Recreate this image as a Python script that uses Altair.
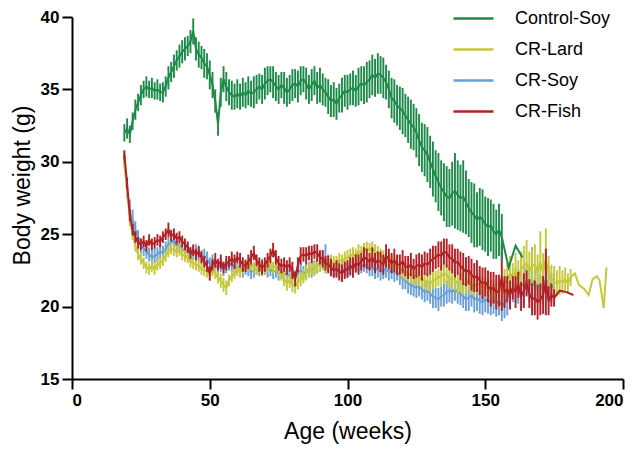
import altair as alt
import pandas as pd

series_order = ["Control-Soy", "CR-Lard", "CR-Soy", "CR-Fish"]
series_colors = ["#1e8a49", "#c4c83a", "#6a9fdb", "#b31f24"]

# ---------------- Control-Soy ----------------
cs_start = 19
cs_mean = [
    32.0, 32.3, 31.9, 32.8, 33.6, 34.1, 34.6, 35.0, 35.2, 35.0, 35.1, 34.9,
    35.0, 34.8, 34.8, 35.2, 35.8, 36.2, 36.6, 37.0, 37.3, 37.6,
    37.8, 38.0, 38.3, 39.0, 37.8, 37.4, 37.2, 36.8, 36.6, 36.0,
    35.3, 34.2, 32.6, 34.8, 35.7, 35.2, 34.8, 34.6, 34.5, 34.7,
    34.5, 34.8, 34.6, 34.9, 34.7, 34.8, 35.0, 35.2, 35.0, 35.4,
    35.6, 35.7, 35.5, 35.2, 35.0, 35.3, 35.1, 34.8, 35.0, 35.3,
    35.4, 35.2, 35.6, 35.7, 35.4, 35.0, 35.3, 35.6, 35.1, 35.3,
    35.0, 34.8, 34.5, 34.2, 34.3, 34.0, 34.4, 34.6, 34.9, 34.8,
    35.0, 35.1, 34.9, 35.2, 35.4, 35.3, 35.5, 35.7, 36.0, 35.8,
    36.1, 36.0, 35.8, 35.5, 35.0, 34.4, 34.2, 33.9, 33.7, 33.5,
    33.2, 32.9, 32.6, 32.4, 32.0, 31.5, 31.0, 30.8, 30.5, 30.0,
    29.5, 29.0, 28.6, 28.2, 27.9, 27.6, 27.5, 27.8, 28.0, 27.7,
    27.5, 27.6, 27.2, 26.8, 26.5, 26.3, 26.0, 26.2, 26.0, 25.7,
    25.5, 25.6, 25.2, 25.0, 25.3, 24.8,
]
cs_err = [
    0.6, 0.7, 0.6, 0.6, 0.7, 0.6, 0.7, 0.6, 0.7, 0.6, 0.7, 0.6,
    0.7, 0.6, 0.7, 0.7, 0.8, 0.7, 0.8, 0.7, 0.8, 0.8,
    0.8, 0.7, 0.8, 0.9, 0.8, 0.9, 0.8, 1.0, 0.9, 1.0,
    0.9, 0.8, 0.8, 1.0, 0.9, 1.0, 0.9, 1.0, 0.9, 1.0,
    0.9, 1.0, 0.9, 1.0, 0.9, 1.1, 1.0, 0.9, 1.0, 1.1,
    1.0, 0.9, 1.1, 1.0, 1.0, 0.9, 1.1, 1.0, 1.0, 1.1,
    1.0, 1.1, 1.0, 0.9, 1.1, 1.0, 1.1, 1.0, 1.1, 1.2,
    1.1, 1.0, 1.2, 1.1, 1.2, 1.1, 1.0, 1.2, 1.1, 1.2,
    1.1, 1.2, 1.1, 1.3, 1.2, 1.3, 1.4, 1.3, 1.4, 1.3,
    1.4, 1.3, 1.4, 1.2, 1.3, 1.4, 1.5, 1.4, 1.5, 1.6,
    1.5, 1.6, 1.7, 1.6, 1.7, 1.8, 1.7, 1.8, 1.9, 1.8,
    1.9, 1.8, 2.0, 1.9, 2.0, 2.1, 2.0, 2.2, 2.6, 2.4,
    2.3, 2.5, 2.2, 2.0, 2.1, 2.2, 1.9, 2.0, 2.1, 1.9,
    2.0, 1.8, 1.9, 1.7, 1.8, 1.6,
]
cs_tail_week = [158.5, 161.0, 163.5]
cs_tail_mean = [22.7, 24.2, 23.4]

# ---------------- CR-Fish ----------------
fi_start = 19
fi_mean = [
    30.5, 28.5, 26.3, 25.3, 24.8, 24.4, 24.3, 24.5, 24.2, 24.6,
    24.3, 24.4, 24.6, 24.5, 24.8, 25.0, 25.3, 24.9, 25.0, 24.7,
    24.8, 24.5, 24.3, 24.1, 23.7, 23.9, 23.6, 23.8, 23.4, 23.1,
    22.8, 22.3, 22.9, 23.2, 22.9, 23.1, 22.7, 23.0, 23.1, 23.3,
    23.1, 23.4, 23.2, 22.9, 22.8, 23.1, 23.4, 23.7, 23.2, 22.9,
    22.7, 22.9, 23.2, 23.5, 23.9, 23.4, 23.0, 22.8, 22.9, 22.7,
    22.9, 22.5, 21.9, 22.9, 23.5, 23.6, 23.5, 23.7, 23.6, 23.8,
    23.7, 23.4, 23.3, 23.0, 22.9, 22.7, 22.5, 22.6, 22.4, 22.3,
    22.5, 22.6, 22.8, 22.7, 23.0, 22.9, 23.1, 23.4, 23.3, 23.1,
    23.4, 23.0, 23.2, 23.1, 22.9, 23.5, 23.3, 23.0, 23.2, 22.9,
    22.9, 23.1, 22.8, 22.7, 22.9, 22.6, 22.8, 22.9, 22.7, 23.0,
    22.9, 23.1, 23.3, 23.4, 23.6, 23.5, 23.8, 23.7, 23.4, 23.3,
    23.0, 23.1, 22.8, 22.6, 22.4, 22.5, 22.2, 22.0, 22.1, 21.8,
    21.6, 21.7, 21.4, 21.2, 21.3, 21.0, 21.1, 22.0, 21.0, 21.2,
    20.8, 21.3, 21.0, 21.5, 20.7, 21.1, 21.6, 20.9, 20.5, 20.6,
    20.3, 20.5, 20.8, 21.7, 20.4, 20.8, 20.6,
]
fi_err = [
    0.3, 0.4, 0.4, 0.4, 0.4, 0.4, 0.4, 0.4, 0.4, 0.4,
    0.4, 0.4, 0.4, 0.4, 0.4, 0.4, 0.5, 0.4, 0.4, 0.4,
    0.4, 0.4, 0.4, 0.4, 0.4, 0.4, 0.4, 0.4, 0.4, 0.4,
    0.4, 0.5, 0.4, 0.5, 0.4, 0.5, 0.4, 0.5, 0.4, 0.5,
    0.5, 0.4, 0.5, 0.5, 0.4, 0.5, 0.5, 0.5, 0.4, 0.5,
    0.5, 0.5, 0.5, 0.5, 0.5, 0.5, 0.5, 0.5, 0.5, 0.5,
    0.5, 0.6, 0.5, 0.5, 0.6, 0.5, 0.6, 0.5, 0.6, 0.5,
    0.6, 0.5, 0.6, 0.5, 0.6, 0.6, 0.5, 0.6, 0.6, 0.6,
    0.6, 0.6, 0.6, 0.7, 0.6, 0.7, 0.6, 0.7, 0.7, 0.6,
    0.7, 0.7, 0.6, 0.7, 0.7, 0.8, 0.7, 0.7, 0.8, 0.7,
    0.7, 0.8, 0.7, 0.8, 0.8, 0.7, 0.8, 0.8, 0.9, 0.8,
    0.8, 0.9, 0.9, 0.8, 0.9, 1.0, 0.9, 1.0, 0.9, 1.0,
    1.0, 0.9, 1.0, 1.1, 1.0, 1.0, 1.1, 1.0, 1.1, 1.0,
    1.1, 1.0, 1.1, 1.2, 1.1, 1.2, 1.1, 2.3, 1.1, 0.9,
    1.0, 0.8, 1.1, 0.9, 1.0, 1.2, 0.9, 1.0, 1.1, 1.2,
    1.2, 1.1, 1.3, 2.3, 1.0, 0.8, 0.6,
]
fi_tail_week = [177.0, 179.5, 182.0]
fi_tail_mean = [21.1, 21.0, 20.8]

# ---------------- CR-Soy ----------------
so_start = 19
so_mean = [
    30.3, 28.0, 26.5, 26.0, 25.3, 24.8, 24.2, 24.0, 23.8, 23.6,
    23.4, 23.5, 23.6, 23.8, 23.7, 24.0, 24.3, 24.4, 24.6, 24.2,
    24.3, 24.0, 23.8, 23.9, 23.6, 23.7, 23.8, 23.6, 23.4, 23.5,
    23.3, 22.9, 23.1, 22.8, 22.7, 22.9, 22.6, 22.8, 23.0, 22.9,
    22.7, 22.8, 22.6, 22.5, 22.7, 22.6, 22.4, 22.5, 22.7, 22.6,
    22.8, 22.7, 22.5, 22.6, 22.4, 22.5, 22.3, 22.4, 22.2, 22.3,
    22.1, 22.2, 22.0, 22.3, 22.5, 22.3, 22.4, 22.6, 22.5, 22.7,
    22.8, 23.0, 23.2, 23.3, 23.0, 22.7, 22.5, 22.6, 22.4, 22.5,
    22.6, 22.5, 22.6, 22.7, 22.8, 22.9, 22.8, 22.9, 22.8, 22.6,
    22.7, 22.5, 22.6, 22.4, 22.5, 22.6, 22.4, 22.5, 22.3, 22.4,
    22.1, 21.9, 21.8, 21.6, 21.5, 21.4, 21.3, 21.4, 21.2, 21.0,
    21.1, 20.9, 20.7, 20.6, 20.5, 20.7, 20.8, 21.0, 21.1, 21.0,
    21.2, 21.0, 20.9, 20.7, 20.5, 20.6, 20.8, 20.5, 20.6, 20.4,
    20.3, 20.5, 20.4, 20.3, 20.5, 20.2, 20.4, 20.1, 20.2, 20.6,
    21.0, 21.3, 21.5, 21.2, 21.6, 21.4, 21.8, 21.5, 21.9, 21.4,
    21.6, 21.2, 21.5, 21.9, 21.6, 21.3, 21.5,
]
so_err = [
    0.4, 0.5, 0.9, 0.7, 0.6, 0.5, 0.5, 0.5, 0.5, 0.5,
    0.5, 0.5, 0.5, 0.5, 0.5, 0.5, 0.5, 0.5, 0.5, 0.5,
    0.5, 0.5, 0.5, 0.5, 0.5, 0.5, 0.5, 0.5, 0.5, 0.5,
    0.5, 0.5, 0.5, 0.5, 0.5, 0.5, 0.5, 0.5, 0.5, 0.5,
    0.5, 0.5, 0.5, 0.5, 0.5, 0.5, 0.5, 0.5, 0.5, 0.5,
    0.5, 0.5, 0.5, 0.5, 0.5, 0.5, 0.5, 0.5, 0.5, 0.5,
    0.5, 0.5, 0.5, 0.5, 0.5, 0.5, 0.5, 0.5, 0.5, 0.5,
    0.5, 0.6, 0.7, 1.0, 0.6, 0.5, 0.5, 0.5, 0.5, 0.5,
    0.5, 0.5, 0.5, 0.5, 0.5, 0.5, 0.5, 0.5, 0.5, 0.5,
    0.6, 0.6, 0.6, 0.6, 0.6, 0.6, 0.6, 0.6, 0.6, 0.6,
    0.6, 0.7, 0.6, 0.7, 0.7, 0.7, 0.7, 0.7, 0.7, 0.7,
    0.7, 0.7, 0.8, 0.7, 0.8, 0.7, 0.8, 0.8, 0.8, 0.8,
    0.8, 0.8, 0.8, 0.8, 0.8, 0.9, 0.8, 0.9, 0.9, 0.9,
    0.9, 0.9, 0.9, 0.9, 1.0, 0.9, 1.0, 1.1, 1.0, 1.2,
    1.1, 1.0, 1.2, 1.0, 1.1, 1.3, 1.0, 1.2, 2.2, 1.1,
    1.2, 1.0, 1.3, 1.1, 1.2, 1.0, 0.8,
]

# ---------------- CR-Lard ----------------
la_start = 19
la_mean = [
    30.0, 28.0, 26.0, 25.0, 24.2, 23.6, 23.3, 23.0, 22.7, 22.6,
    22.8, 22.6, 22.9, 23.0, 23.2, 23.5, 23.8, 24.0, 23.9, 23.8,
    23.9, 23.6, 23.5, 23.4, 23.1, 23.0, 22.9, 22.8, 22.6, 22.5,
    22.4, 22.2, 22.5, 22.3, 22.0, 21.8, 21.5, 21.3, 21.8, 22.1,
    22.3, 22.5, 22.4, 22.7, 22.9, 22.8, 22.9, 22.7, 22.6, 22.7,
    22.5, 22.6, 22.8, 22.9, 22.7, 22.8, 22.5, 22.2, 21.9, 21.6,
    21.8, 21.5, 21.4, 21.7, 21.9, 22.1, 22.3, 22.5, 22.7, 22.6,
    22.8, 22.9, 23.0, 22.8, 22.9, 23.1, 23.0, 23.0, 23.2, 23.1,
    23.3, 23.4, 23.5, 23.6, 23.5, 23.8, 23.7, 23.9, 24.0, 23.9,
    24.0, 23.8, 23.7, 23.5, 23.4, 23.3, 23.1, 23.0, 22.9, 22.7,
    22.6, 22.5, 22.4, 22.3, 22.2, 22.1, 22.1, 22.0, 21.9, 21.8,
    21.7, 21.6, 21.8, 21.9, 22.0, 22.1, 22.3, 22.2, 22.0, 21.9,
    21.8, 21.6, 21.7, 21.5, 21.6, 21.8, 21.5, 21.4, 21.6, 21.5,
    21.3, 21.4, 21.2, 21.0, 21.1, 20.9, 21.0, 21.2, 21.6, 21.9,
    22.3, 22.0, 22.4, 22.1, 22.6, 22.8, 23.0, 22.5, 22.8, 22.9,
    22.4, 23.0, 22.4, 23.3, 22.3, 21.9, 21.7, 21.6, 21.8, 21.7,
    21.9, 21.6, 22.0,
]
la_err = [
    0.4, 0.4, 0.4, 0.4, 0.4, 0.4, 0.4, 0.4, 0.4, 0.4,
    0.4, 0.4, 0.4, 0.4, 0.4, 0.4, 0.4, 0.4, 0.4, 0.4,
    0.4, 0.4, 0.4, 0.4, 0.4, 0.4, 0.4, 0.4, 0.4, 0.4,
    0.4, 0.4, 0.4, 0.4, 0.4, 0.5, 0.5, 0.5, 0.4, 0.4,
    0.4, 0.4, 0.4, 0.4, 0.4, 0.4, 0.4, 0.4, 0.4, 0.4,
    0.4, 0.4, 0.4, 0.4, 0.4, 0.4, 0.4, 0.4, 0.5, 0.5,
    0.5, 0.5, 0.5, 0.5, 0.5, 0.5, 0.5, 0.5, 0.5, 0.5,
    0.5, 0.5, 0.5, 0.5, 0.5, 0.5, 0.5, 0.5, 0.5, 0.5,
    0.5, 0.5, 0.5, 0.5, 0.5, 0.5, 0.5, 0.5, 0.5, 0.5,
    0.5, 0.5, 0.5, 0.5, 0.5, 0.5, 0.5, 0.5, 0.5, 0.5,
    0.5, 0.6, 0.6, 0.6, 0.6, 0.6, 0.6, 0.6, 0.6, 0.6,
    0.6, 0.6, 0.6, 0.6, 0.6, 0.7, 0.7, 0.7, 0.7, 0.7,
    0.7, 0.7, 0.7, 0.7, 0.7, 0.7, 0.7, 0.7, 0.7, 0.7,
    0.7, 0.7, 0.7, 0.8, 0.7, 0.8, 0.8, 0.9, 1.0, 1.1,
    1.2, 1.0, 1.3, 1.1, 1.2, 1.4, 1.6, 1.3, 1.2, 1.4,
    1.2, 2.2, 1.3, 2.1, 1.2, 1.0, 1.1, 0.9, 1.0, 0.8,
    0.8, 0.7, 0.6,
]
la_tail_week = [182.5, 184.0, 186.0, 187.5, 189.0, 190.5, 191.5, 193.0, 194.0]
la_tail_mean = [22.3, 21.5, 21.2, 20.8, 21.9, 22.1, 21.8, 19.9, 22.7]


def build(name, start, means, errs, tail_w=(), tail_m=()):
    rows = []
    for i, (m, e) in enumerate(zip(means, errs)):
        rows.append({"series": name, "week": start + i, "mean": m,
                     "lo": m - e, "hi": m + e})
    for w, m in zip(tail_w, tail_m):
        rows.append({"series": name, "week": w, "mean": m, "lo": m, "hi": m})
    return pd.DataFrame(rows)


frames = {
    "CR-Soy": build("CR-Soy", so_start, so_mean, so_err),
    "CR-Lard": build("CR-Lard", la_start, la_mean, la_err, la_tail_week, la_tail_mean),
    "CR-Fish": build("CR-Fish", fi_start, fi_mean, fi_err, fi_tail_week, fi_tail_mean),
    "Control-Soy": build("Control-Soy", cs_start, cs_mean, cs_err, cs_tail_week, cs_tail_mean),
}

color_scale = alt.Scale(domain=series_order, range=series_colors)
legend = alt.Legend(
    title=None, orient="none", legendX=380, legendY=-20,
    symbolType="stroke", symbolSize=1600, symbolStrokeWidth=2.5,
    labelFont="Liberation Sans", labelFontSize=18, labelColor="black",
    labelOffset=20, rowPadding=-14, padding=0,
)
color_enc = alt.Color("series:N", scale=color_scale, legend=legend)
x_scale = alt.Scale(domain=[0, 200], nice=False)
y_scale = alt.Scale(domain=[15, 40], nice=False, zero=False)
y_axis = alt.Axis(values=[15, 20, 25, 30, 35, 40], title="Body weight (g)", titleY=168)
x_enc = alt.X("week:Q", scale=x_scale,
              axis=alt.Axis(values=[0, 50, 100, 150, 200], title="Age (weeks)"))
y_enc = alt.Y("mean:Q", scale=y_scale, axis=y_axis)

layers = []
for name in ["CR-Soy", "CR-Lard", "CR-Fish", "Control-Soy"]:
    df = frames[name]
    bars = alt.Chart(df).mark_rule(strokeWidth=1.9).encode(
        x=x_enc,
        y=alt.Y("lo:Q", scale=y_scale, axis=y_axis),
        y2="hi:Q",
        color=color_enc,
    )
    line = alt.Chart(df).mark_line(strokeWidth=2).encode(
        x=x_enc, y=y_enc, order="week:Q", color=color_enc,
    )
    layers += [bars, line]

chart = alt.layer(*layers).properties(
    width=551, height=362,
    autosize=alt.AutoSizeParams(type="none"),
    padding={"left": 64, "top": 9, "right": 9, "bottom": 68},
).configure_view(stroke=None).configure_axis(
    grid=False, domainColor="black", domainWidth=2, tickColor="black",
    tickWidth=2, tickSize=10, labelFont="Liberation Sans", labelFontWeight="bold",
    labelFontSize=17, labelColor="black", labelPadding=3,
    titleFont="Liberation Sans", titleFontWeight="normal", titleFontSize=23,
    titleColor="black",
).configure_axisX(titlePadding=12).configure_axisY(titlePadding=6)

chart.save("out.html", embed_options={"renderer": "svg", "actions": False})
